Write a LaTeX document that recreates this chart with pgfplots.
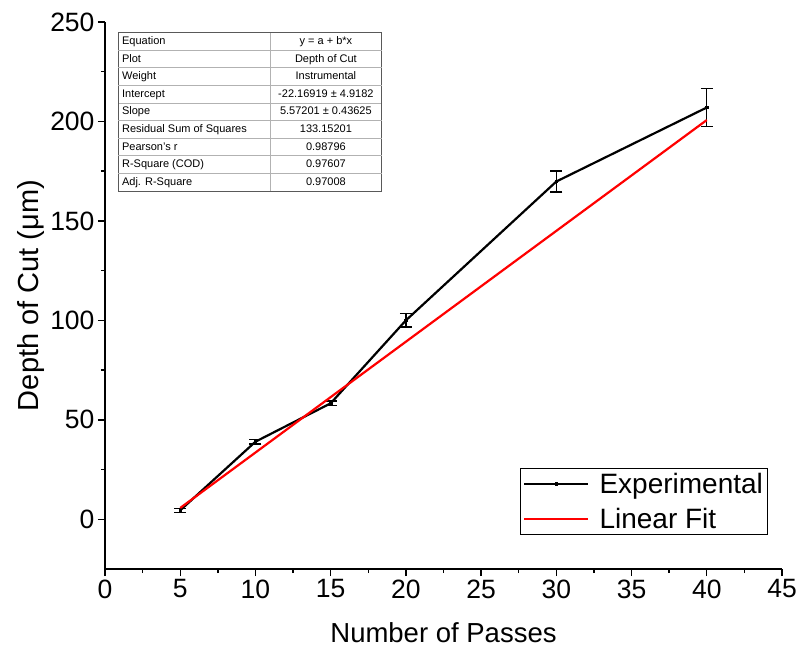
\documentclass[border=0pt]{standalone}
\usepackage{pgfplots}
\pgfplotsset{compat=1.18}
\usepackage{fontspec}
\setmainfont{Liberation Sans}
\usepackage{array}
\usepackage{colortbl}
\begin{document}
\begin{tikzpicture}
\begin{axis}[
  name=ax,
  scale only axis,
  width=677pt, height=547pt,
  xmin=0, xmax=45, ymin=-25, ymax=250,
  xtick={0,5,...,45}, ytick={0,50,...,250},
  minor x tick num=1, minor y tick num=1,
  axis x line*=bottom, axis y line*=left,
  axis line style={-, line width=1.6pt},
  tick align=outside,
  major tick length=7pt, minor tick length=4pt,
  every tick/.style={line width=1.4pt, black},
  tick label style={font=\fontsize{26.5}{30}\selectfont},
  /pgf/number format/assume math mode=true,
  xlabel={Number of Passes},
  ylabel={Depth of Cut (μm)},
  label style={font=\fontsize{27.5}{32}\selectfont},
  xlabel style={yshift=-17pt},
  ylabel style={yshift=-1pt, font=\fontsize{29}{32}\selectfont},
  legend style={at={(0.98,0.062)}, anchor=south east, draw=black, line width=1pt,
    font=\fontsize{28}{36}\selectfont, inner sep=3pt, row sep=9pt},
  legend cell align=left,
  legend image code/.code={\draw[#1, mark repeat=2, mark phase=2] plot coordinates {(0pt,0pt) (32pt,0pt) (64pt,0pt)}; \path (72pt,0pt);},
]
\addplot[black, line width=2.2pt, mark=square*, mark size=1.2pt,
  mark options={line width=0.5pt},
  error bars/.cd, y dir=both, y explicit,
  error bar style={line width=1.4pt, black},
  error mark options={rotate=90, mark size=6pt, line width=1.4pt}]
  coordinates {
  (5,4.5) +- (0,1.0)
  (10,39.0) +- (0,1.2)
  (15,58.3) +- (0,1.2)
  (20,100.0) +- (0,3.3)
  (30,169.8) +- (0,5.3)
  (40,207.0) +- (0,9.5)
  };
\addlegendentry{Experimental}
\addplot[red, line width=2.2pt] coordinates {(5,5.69) (40,200.71)};
\addlegendentry{Linear Fit}
\node[anchor=north west, inner sep=0pt] at ([xshift=13pt,yshift=-10pt]rel axis cs:0,1) {%
  \fontsize{11}{12}\selectfont
  \setlength{\tabcolsep}{3pt}%
  \setlength{\arrayrulewidth}{0.8pt}%
  \renewcommand{\arraystretch}{1}%
  \begin{tabular}{!{\color{black!65}\vrule width 0.9pt}>{\raggedright\arraybackslash}p{145pt}!{\color{black!30}\vrule width 0.8pt}>{\centering\arraybackslash}p{104pt}!{\color{black!65}\vrule width 0.9pt}}
  \arrayrulecolor{black!65}\hline\arrayrulecolor{black!30}
  Equation\rule[-5.2pt]{0pt}{16.8pt} & y = a + b*x \\ \hline
  Plot\rule[-5.2pt]{0pt}{16.8pt} & Depth of Cut \\ \hline
  Weight\rule[-5.2pt]{0pt}{16.8pt} & Instrumental \\ \hline
  Intercept\rule[-5.2pt]{0pt}{16.8pt} & -22.16919 ± 4.9182 \\ \hline
  Slope\rule[-5.2pt]{0pt}{16.8pt} & 5.57201 ± 0.43625 \\ \hline
  Residual Sum of Squares\rule[-5.2pt]{0pt}{16.8pt} & 133.15201 \\ \hline
  Pearson's r\rule[-5.2pt]{0pt}{16.8pt} & 0.98796 \\ \hline
  R-Square (COD)\rule[-5.2pt]{0pt}{16.8pt} & 0.97607 \\ \hline
  Adj. R-Square\rule[-5.2pt]{0pt}{16.8pt} & 0.97008 \\
  \arrayrulecolor{black!65}\hline
  \end{tabular}};
\end{axis}
\pgfresetboundingbox
\path ([xshift=-105pt,yshift=-84pt]ax.south west) rectangle ([xshift=15pt,yshift=22pt]ax.north east);
\end{tikzpicture}
\end{document}
